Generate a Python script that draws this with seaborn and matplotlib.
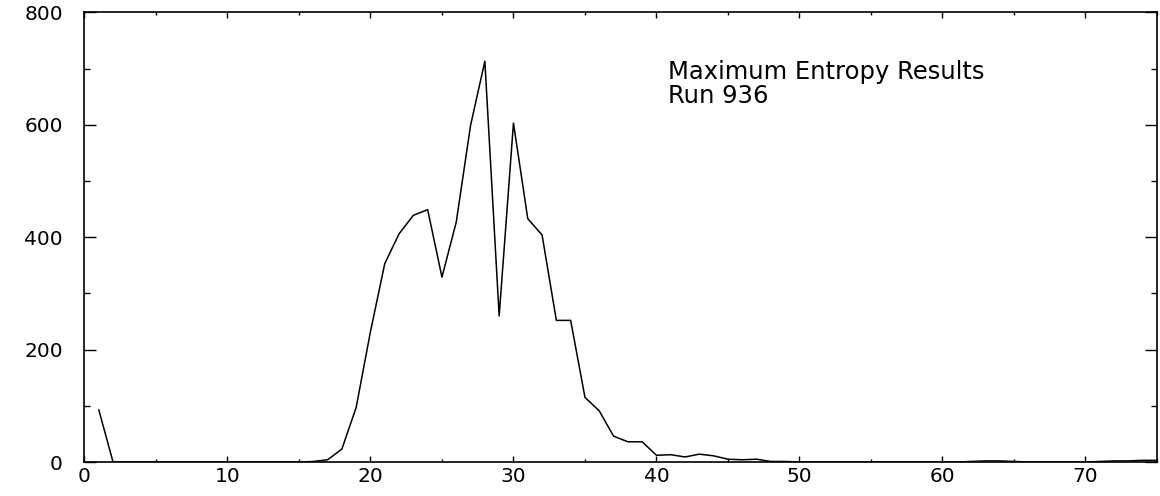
import matplotlib
matplotlib.use("Agg")
import matplotlib.pyplot as plt
from matplotlib.ticker import MultipleLocator
import seaborn as sns
import pandas as pd

channel = list(range(1, 76))
counts = [93, 0, 0, 0, 0, 0, 0, 0, 0, 0,
          0, 0, 0, 0, 0, 1, 4, 23, 97, 232,
          353, 406, 439, 449, 329, 427, 599, 713, 260, 603,
          433, 404, 252, 252, 115, 91, 46, 36, 36, 12,
          13, 9, 14, 11, 5, 4, 5, 1, 1, 0,
          0, 0, 0, 0, 0, 0, 0, 0, 0, 0,
          0, 1, 2, 2, 1, 0, 0, 0, 0, 0,
          1, 2, 2, 3, 3]
title_lines = ["Maximum Entropy Results", "Run 936"]
x_ticks = [0, 10, 20, 30, 40, 50, 60, 70]
y_ticks = [0, 200, 400, 600, 800]

sns.set_style("ticks")
plt.rcParams["font.family"] = ["DejaVu Sans"]

df = pd.DataFrame({"channel": channel, "counts": counts})

fig = plt.figure(figsize=(11.6, 4.96), dpi=100)
ax = fig.add_axes([0.0728, 0.0685, 0.9246, 0.9065])
sns.lineplot(data=df, x="channel", y="counts", ax=ax, color="black", linewidth=1.1)

ax.set_xlim(0, 75)
ax.set_ylim(0, 800)
ax.set_xticks(x_ticks)
ax.set_yticks(y_ticks)
ax.xaxis.set_minor_locator(MultipleLocator(5))
ax.yaxis.set_minor_locator(MultipleLocator(100))
ax.set_xlabel("")
ax.set_ylabel("")

for s in ax.spines.values():
    s.set_visible(True)
    s.set_linewidth(1.2)
    s.set_color("black")

ax.tick_params(axis="both", which="both", direction="in", top=True, right=True,
               colors="black", labelsize=14.5, width=1.0)
ax.tick_params(axis="x", which="major", length=4.5, pad=3.5)
ax.tick_params(axis="x", which="minor", length=2.5)
ax.tick_params(axis="y", which="major", length=8.6, pad=15.5)
ax.tick_params(axis="y", which="minor", length=4.3)

ax.text(40.8, 681, title_lines[0], fontsize=17.5, va="baseline", ha="left", color="black")
ax.text(40.8, 639, title_lines[1], fontsize=17.5, va="baseline", ha="left", color="black")

fig.savefig("out.png", dpi=100)
